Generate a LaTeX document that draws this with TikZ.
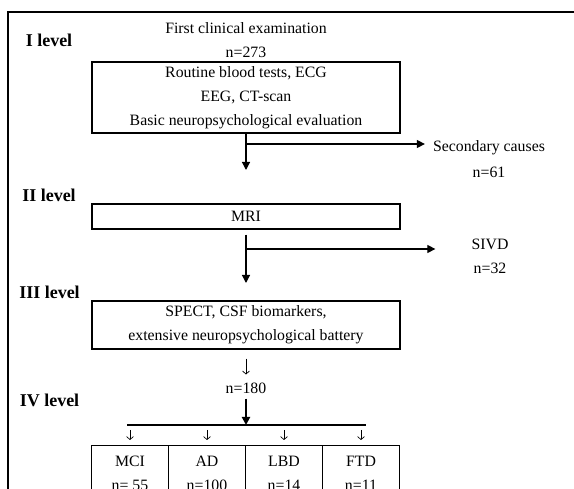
\documentclass[tikz,border=0pt]{standalone}
\usepackage{fontspec}
\setmainfont{Liberation Serif}
\usetikzlibrary{arrows.meta, positioning, calc}
\tikzset{
	stage/.style={rectangle, draw=black, line width=1.2pt, minimum width=308pt, align=center, inner sep=0pt, font=\fontsize{15.8}{24}\selectfont},
	cell/.style={rectangle, draw=black, line width=1.2pt, minimum width=77pt, minimum height=56pt, anchor=north, align=center, inner sep=0pt, font=\fontsize{15.8}{24}\selectfont},
	plain/.style={inner sep=0pt, font=\fontsize{15.8}{24}\selectfont},
	levellabel/.style={inner sep=0pt, font=\fontsize{18}{20}\selectfont\bfseries},
	flowarrow/.style={-{Triangle[length=8pt, width=8pt]}, line width=1.2pt},
	thinarrow/.style={-{Straight Barb[length=3pt, width=7pt]}, line width=0.7pt},
}
\begin{document}
\begin{tikzpicture}[x=1pt, y=-1pt]
	\useasboundingbox (0,0) rectangle (574,489);
	% frame
	\draw[line width=1.2pt] (8,500) -- (8,12) -- (580,12);
	% level labels
	\node[levellabel] (lv1) at (49,40) {I level};
	\node[levellabel] (lv2) at (49,195) {II level};
	\node[levellabel] (lv3) at (49.5,292) {III level};
	\node[levellabel] (lv4) at (49.5,400) {IV level};
	% I level
	\node[plain] (first) at (246,28) {First clinical examination};
	\node[plain] (n273) at (246,52) {n=273};
	\node[stage, minimum height=71pt] (exam) at (246,97.5) {Routine blood tests, ECG\\EEG, CT-scan\\Basic neuropsychological evaluation};
	\coordinate (tip1) at (246,170);
	\coordinate (br1) at (246,144);
	\draw[flowarrow] (exam.south) -- (tip1);
	\node[plain] (sec) at (489,148) {Secondary causes};
	\node[plain] (n61) at (489,172) {n=61};
	\draw[flowarrow, shorten >=8pt] (br1) -- (br1 -| sec.west);
	% II level
	\node[stage, minimum height=25pt] (mri) at (246,216.5) {MRI};
	\coordinate (tip2) at (246,283);
	\coordinate (br2) at (246,249);
	\draw[flowarrow] ([yshift=-5pt]mri.south) -- (tip2);
	\node[plain] (sivd) at (490,244) {SIVD};
	\node[plain] (n32) at (490,268) {n=32};
	\draw[flowarrow, shorten >=36pt] (br2) -- (br2 -| sivd.west);
	% III level
	\node[stage, minimum height=48pt] (spect) at (246,325) {SPECT, CSF biomarkers,\\extensive neuropsychological battery};
	\node[plain] (n180) at (246,388) {n=180};
	\draw[thinarrow, shorten <=9pt, shorten >=8pt] (spect.south) -- (n180.north);
	% IV level
	\coordinate (bus) at (246,425);
	\coordinate (busL) at (127,425);
	\coordinate (busR) at (366,425);
	\draw[flowarrow, line width=2pt, shorten <=5pt] (n180.south) -- (bus);
	\draw[line width=1.2pt] (busL) -- (busR);
	\node[cell] (mci) at (130,445) {MCI\\n= 55};
	\node[cell, right=-1.2pt of mci] (ad) {AD\\n=100};
	\node[cell, right=-1.2pt of ad] (lbd) {LBD\\n=14};
	\node[cell, right=-1.2pt of lbd] (ftd) {FTD\\n=11};
	\foreach \c in {mci,ad,lbd,ftd}
		\draw[thinarrow, shorten <=5pt, shorten >=5pt] (\c.north |- bus) -- (\c.north);
\end{tikzpicture}
\end{document}
